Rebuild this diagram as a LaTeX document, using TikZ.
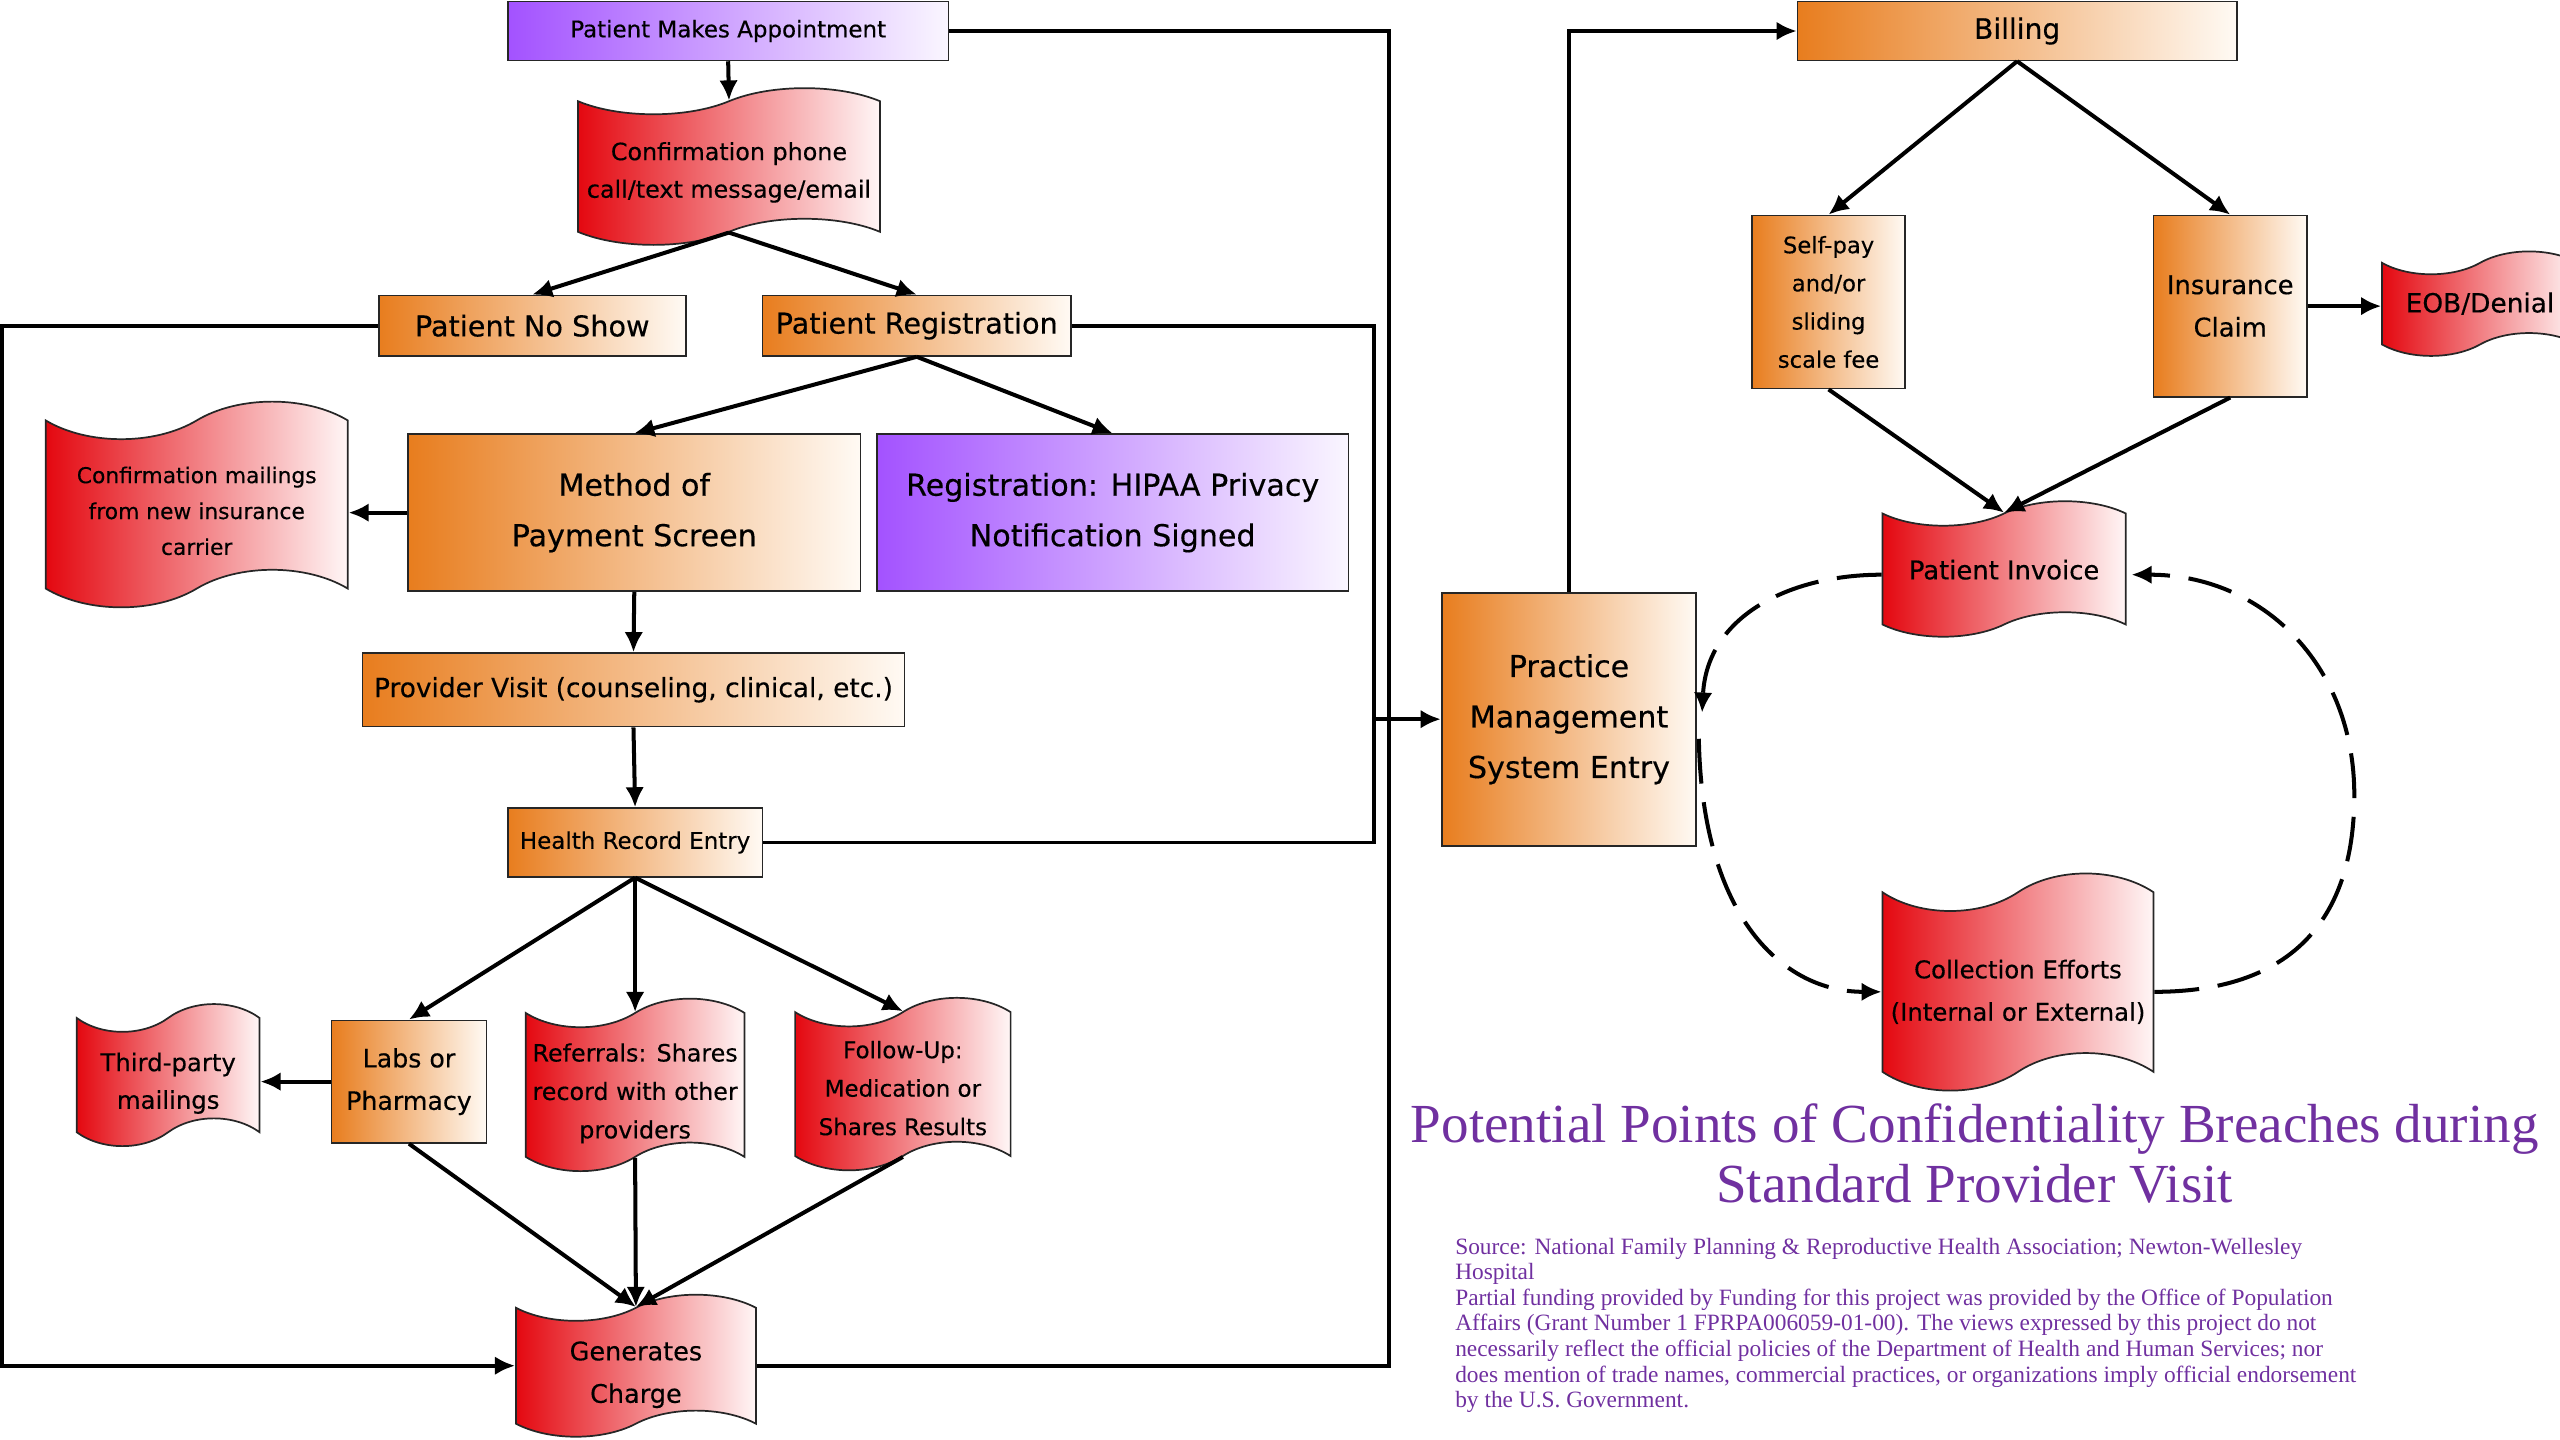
\documentclass[tikz,border=0pt]{standalone}
\usepackage{fontspec}
\setmainfont[FakeBold=0.35]{DejaVu Sans}
\newfontfamily\serifface{Liberation Serif}
\usetikzlibrary{shapes.symbols,arrows.meta,calc}
\definecolor{orL}{RGB}{232,125,30}
\definecolor{orR}{RGB}{255,250,244}
\definecolor{puL}{RGB}{163,82,255}
\definecolor{puR}{RGB}{250,246,255}
\definecolor{reL}{RGB}{228,8,16}
\definecolor{reR}{RGB}{255,246,246}
\definecolor{ttl}{RGB}{112,48,160}
\newcommand\myfs[2]{\fontsize{#1}{#2}\selectfont}
% lower the text of a tape by #1 without changing the box used for centring
\newcommand\lowtext[2]{\raisebox{-#1}[\height][\depth]{\begin{tabular}{@{}c@{}}#2\end{tabular}}}
\tikzset{
  box/.style={draw=black!85, line width=0.6pt, inner sep=0pt, align=center, text=black},
  obox/.style={box, left color=orL, right color=orR},
  pbox/.style={box, left color=puL, right color=puR},
  tp/.style={tape, draw=black!85, line width=0.6pt, inner sep=0pt, align=center, text=black, left color=reL, right color=reR},
  ln/.style={line width=1.3pt},
  con/.style={line width=1.4pt, -{Latex[length=7pt,width=6.5pt]}},
  dsh/.style={line width=1.4pt, dash pattern=on 5.5mm off 2.3mm, -{Latex[length=7pt,width=6.5pt]}},
}
\begin{document}
\begin{tikzpicture}[x=0.2mm, y=-0.2mm]
\useasboundingbox (0,0) rectangle (1568,882);
% left part
\node[pbox, minimum width=54mm, minimum height=7.2mm, font=\myfs{8}{10}] (pma) at (446,19) {Patient Makes Appointment};
\node[tp, minimum width=37mm, minimum height=19.2mm, tape bend height=3.2mm, font=\myfs{8.3}{13.1}] (conf) at (446.5,102) {\lowtext{0.6mm}{Confirmation phone\\call/text message/email}};
\node[obox, minimum width=37.6mm, minimum height=7.4mm, font=\myfs{10}{12}] (noshow) at (326,199.5) {Patient No Show};
\node[obox, minimum width=37.8mm, minimum height=7.4mm, font=\myfs{10}{12}] (reg) at (561.5,199.5) {Patient Registration};
\node[obox, minimum width=55.4mm, minimum height=19.2mm, font=\myfs{10.5}{17.6}] (mop) at (388.5,314) {Method of\\Payment Screen};
\node[pbox, minimum width=57.8mm, minimum height=19.2mm, font=\myfs{10.5}{17.6}] (hipaa) at (681.5,314) {Registration: HIPAA Privacy\\Notification Signed};
\node[tp, minimum width=37mm, minimum height=25.2mm, tape bend height=4.6mm, font=\myfs{7.6}{12.5}] (confmail) at (120.5,309) {\lowtext{0.9mm}{Confirmation mailings\\from new insurance\\carrier}};
\node[obox, minimum width=66.4mm, minimum height=9mm, font=\myfs{9.2}{11}] (visit) at (388,422.5) {Provider Visit (counseling, clinical, etc.)};
\node[obox, minimum width=31.2mm, minimum height=8.4mm, font=\myfs{8}{10}] (hre) at (389,516) {Health Record Entry};
\node[obox, minimum width=19mm, minimum height=15mm, font=\myfs{8.8}{14.8}] (labs) at (250.5,662.5) {Labs or\\Pharmacy};
\node[tp, minimum width=22.4mm, minimum height=17.4mm, tape bend height=3.4mm, font=\myfs{8.5}{13.1}] (third) at (103,658.5) {\lowtext{0.9mm}{Third-party\\mailings}};
\node[tp, minimum width=26.8mm, minimum height=20.2mm, tape bend height=3.5mm, font=\myfs{8.3}{13.4}] (ref) at (389,664.5) {\lowtext{0.9mm}{Referrals: Shares\\record with other\\providers}};
\node[tp, minimum width=26.4mm, minimum height=20mm, tape bend height=3.5mm, font=\myfs{8}{13.4}] (follow) at (553,664) {\lowtext{0.6mm}{Follow-Up:\\Medication or\\Shares Results}};
\node[tp, minimum width=29.4mm, minimum height=17.4mm, tape bend height=3.2mm, font=\myfs{8.9}{14.8}] (gen) at (389.5,836.5) {\lowtext{0.9mm}{Generates\\Charge}};
% right part
\node[obox, minimum width=31.2mm, minimum height=31mm, font=\myfs{10.5}{17.6}] (pms) at (961,440.5) {Practice\\Management\\System Entry};
\node[obox, minimum width=53.8mm, minimum height=7.2mm, font=\myfs{9.8}{12}] (billing) at (1235.5,19) {Billing};
\node[obox, minimum width=18.8mm, minimum height=21.2mm, font=\myfs{7.9}{13.3}] (selfpay) at (1120,185) {Self-pay\\and/or\\sliding\\scale fee};
\node[obox, minimum width=18.8mm, minimum height=22.2mm, font=\myfs{9}{14.8}] (insur) at (1366,187.5) {Insurance\\Claim};
\node[tp, minimum width=24mm, minimum height=12.8mm, tape bend height=2.8mm, font=\myfs{9.2}{11}] (eob) at (1519,186) {\lowtext{0.3mm}{EOB/Denial}};
\node[tp, minimum width=29.8mm, minimum height=16.6mm, tape bend height=3mm, font=\myfs{9}{11}] (pi) at (1227.5,348.5) {\lowtext{0.5mm}{Patient Invoice}};
\node[tp, minimum width=33.2mm, minimum height=26.6mm, tape bend height=4.6mm, font=\myfs{8.5}{14.8}] (ce) at (1236,601.5) {\lowtext{1.1mm}{Collection Efforts\\(Internal or External)}};
% title and source
\node[text=ttl, align=center, inner sep=0pt, font=\serifface\myfs{19.2}{21.2}] (title) at (1209.5,706.5) {Potential Points of Confidentiality Breaches during\\Standard Provider Visit};
\node[text=ttl, align=left, anchor=north west, inner sep=0pt, font=\serifface\myfs{8.15}{8.9}] (src) at (891,758) {Source: National Family Planning \& Reproductive Health Association; Newton-Wellesley\\Hospital\\Partial funding provided by Funding for this project was provided by the Office of Population\\Affairs (Grant Number 1 FPRPA006059-01-00). The views expressed by this project do not\\necessarily reflect the official policies of the Department of Health and Human Services; nor\\does mention of trade names, commercial practices, or organizations imply official endorsement\\by the U.S. Government.};
% connectors left
\draw[con] (pma.south) -- (conf.north);
\draw[con] (conf.south) -- (noshow.north);
\draw[con] (conf.south) -- (reg.north);
\draw[con] (reg.south) -- (mop.north);
\draw[con] (reg.south) -- (hipaa.north);
\draw[con] (mop.west) -- (mop.west -| confmail.east);
\draw[con] (mop.south) -- (visit.north);
\draw[con] (visit.south) -- (hre.north);
\draw[con] (hre.south) -- (labs.north);
\draw[con] (hre.south) -- (ref.north);
\draw[con] (hre.south) -- (follow.north);
\draw[con] (labs.west) -- (labs.west -| third.east);
\draw[con] (labs.south) -- (gen.north);
\draw[con] (ref.south) -- (gen.north);
\draw[con] (follow.south) -- (gen.north);
\draw[con] (noshow.west) -- ++(-230,0) |- (gen.west);
\draw[ln] (pma.east) -- ++(269,0) |- (gen.east);
\draw[ln] (reg.east) -- ++(185,0) |- (hre.east);
\coordinate (j1) at (841,440.5);
\draw[con] (j1) -- (pms.west);
% connectors right
\draw[con] (pms.north) |- (billing.west);
\draw[con] (billing.south) -- (selfpay.north);
\draw[con] (billing.south) -- (insur.north);
\draw[con] (insur.east) -- (insur.east -| eob.west);
\draw[con] (selfpay.south) -- (pi.north);
\draw[con] (insur.south) -- (pi.north);
\coordinate (rc) at (1442,487);
\draw[dsh] ($(pi.west)+(0,3.5)$) .. controls +(-55,0) and +(3,-60) .. ($(pms.east)+(3,-4)$);
\draw[dsh] ($(pms.east)+(1,12)$) .. controls +(2,110) and +(-60,0) .. ($(ce.west)+(0,6)$);
\draw[dsh] ($(ce.east)+(0,6)$) .. controls +(90,0) and +(0,70) .. (rc) .. controls +(0,-80) and +(80,0) .. ($(pi.east)+(3,3.5)$);
\end{tikzpicture}
\end{document}
